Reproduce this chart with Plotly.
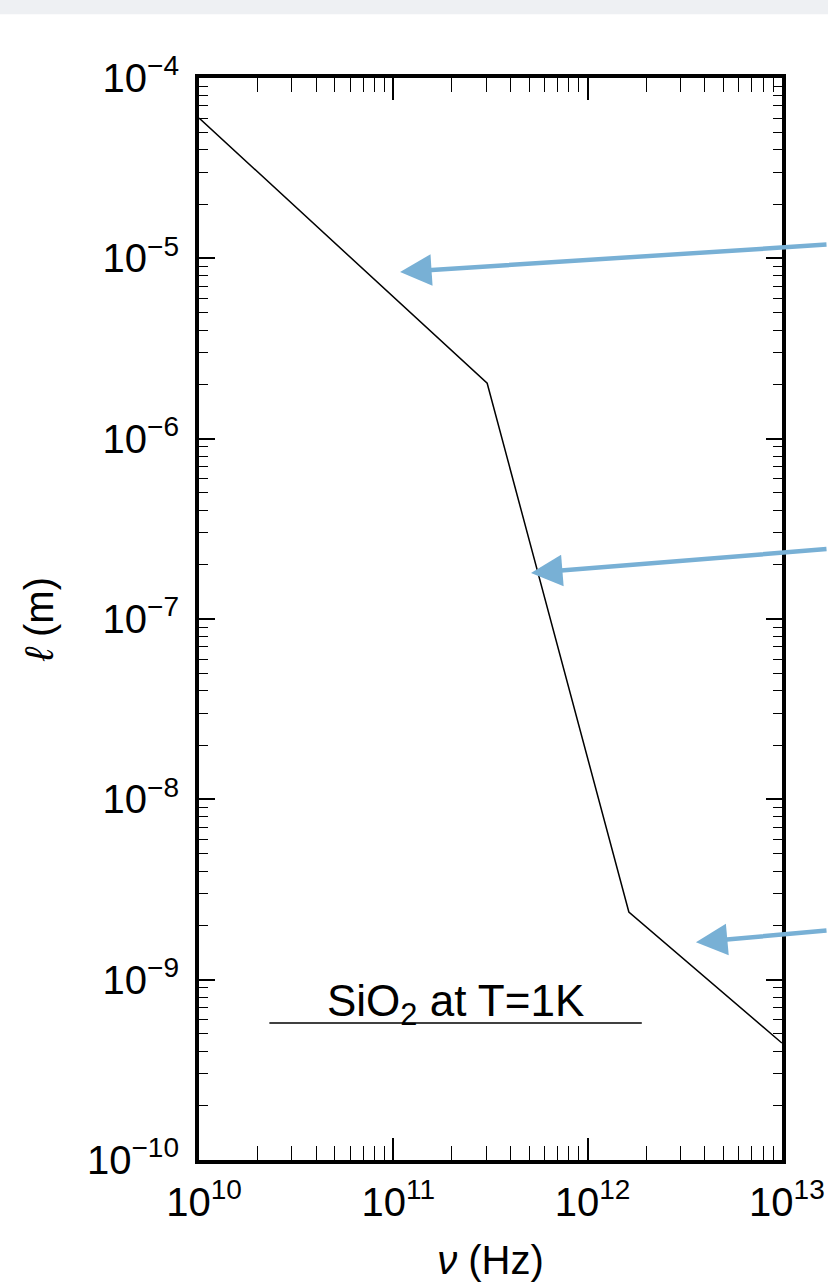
import math
import plotly.graph_objects as go

# ---- data ----
nu_hz = [1.0e10, 3.04e11, 1.63e12, 1.0e13]
ell_m = [6.0e-5, 2.03e-6, 2.37e-9, 4.45e-10]

x_tick_vals = [1e10, 1e11, 1e12, 1e13]
x_tick_text = ["10<sup>10</sup>", "10<sup>11</sup>", "10<sup>12</sup>", "10<sup>13</sup>"]
y_tick_vals = [1e-4, 1e-5, 1e-6, 1e-7, 1e-8, 1e-9, 1e-10]
y_tick_text = ["10<sup>−4</sup>", "10<sup>−5</sup>", "10<sup>−6</sup>", "10<sup>−7</sup>",
               "10<sup>−8</sup>", "10<sup>−9</sup>", "10<sup>−10</sup>"]
x_minor = [m * 10**e for e in range(10, 13) for m in range(2, 10)]
y_minor = [m * 10.0**e for e in range(-10, -4) for m in range(2, 10)]

# arrow tips (data coords) and tail offsets (pixels)
arrow_tips_x = [1.083e11, 5.11e11, 3.61e12]
arrow_tips_y = [8.4e-6, 1.8e-7, 1.61e-9]
arrow_dx = [470, 339, 174]
arrow_dy = [-27.5, -24, -12]

label_text = "SiO<sub>2</sub> at T=1K"
label_x = 2.1e11
label_y = 5.0e-10
underline_x = [2.3e10, 1.9e12]
underline_y = 5.74e-10

FONT = "Liberation Sans, Arial, sans-serif"
ARROW = "#78B0D5"

fig = go.Figure()
fig.add_trace(go.Scatter(x=nu_hz, y=ell_m, mode="lines",
                         line=dict(color="black", width=1.5), showlegend=False,
                         hoverinfo="skip"))

fig.add_shape(type="line", xref="x", yref="y",
              x0=underline_x[0], x1=underline_x[1], y0=underline_y, y1=underline_y,
              line=dict(color="black", width=1.5))

# annotations on log axes take log10 positions
fig.add_annotation(x=math.log10(label_x), y=math.log10(label_y), xref="x", yref="y",
                   text=label_text, showarrow=False, yanchor="bottom",
                   font=dict(family=FONT, size=44, color="black"))

for tx, ty, dx, dy in zip(arrow_tips_x, arrow_tips_y, arrow_dx, arrow_dy):
    fig.add_annotation(x=math.log10(tx), y=math.log10(ty), xref="x", yref="y",
                       ax=dx, ay=dy, text="",
                       showarrow=True, arrowhead=2, arrowsize=1.4, arrowwidth=4.5,
                       arrowcolor=ARROW, standoff=0)

# light gray strip at the very top of the page
fig.add_shape(type="rect", xref="paper", yref="paper", x0=-0.5, x1=1.5,
              y0=1.059, y1=1.2, line=dict(width=0), fillcolor="#EEF0F3", layer="below")

axis_common = dict(showgrid=False, zeroline=False, showline=True, linecolor="black",
                   linewidth=4, mirror="allticks", ticks="inside",
                   tickcolor="black", tickwidth=1.5, automargin=False)

fig.update_xaxes(type="log", range=[9.9995, 13.0005], tickvals=x_tick_vals, ticktext=x_tick_text,
                 ticklen=22, ticklabelshift=5, ticklabelstandoff=4,
                 ticklabeloverflow="allow",
                 tickfont=dict(family=FONT, size=40, color="black"),
                 minor=dict(tickvals=x_minor, ticks="inside", ticklen=14,
                            tickwidth=1.2, tickcolor="black", showgrid=False),
                 title=dict(text="<i>ν</i> (Hz)", font=dict(family=FONT, size=40, color="black"),
                            standoff=24),
                 **axis_common)
fig.update_yaxes(type="log", range=[-10.0003, -3.9997], tickvals=y_tick_vals, ticktext=y_tick_text,
                 ticklen=16, ticklabelstandoff=8, ticklabeloverflow="allow",
                 tickfont=dict(family=FONT, size=40, color="black"),
                 minor=dict(tickvals=y_minor, ticks="inside", ticklen=9,
                            tickwidth=1.2, tickcolor="black", showgrid=False),
                 title=dict(text="<i>ℓ</i> (m)", font=dict(family=FONT, size=40, color="black"),
                            standoff=22),
                 **axis_common)

fig.update_layout(width=828, height=1283, margin=dict(l=199, r=46, t=78, b=123),
                  paper_bgcolor="white", plot_bgcolor="white", showlegend=False)

fig.write_html("out.html", config={"displayModeBar": False},
               post_script="document.body.style.margin='0';")
